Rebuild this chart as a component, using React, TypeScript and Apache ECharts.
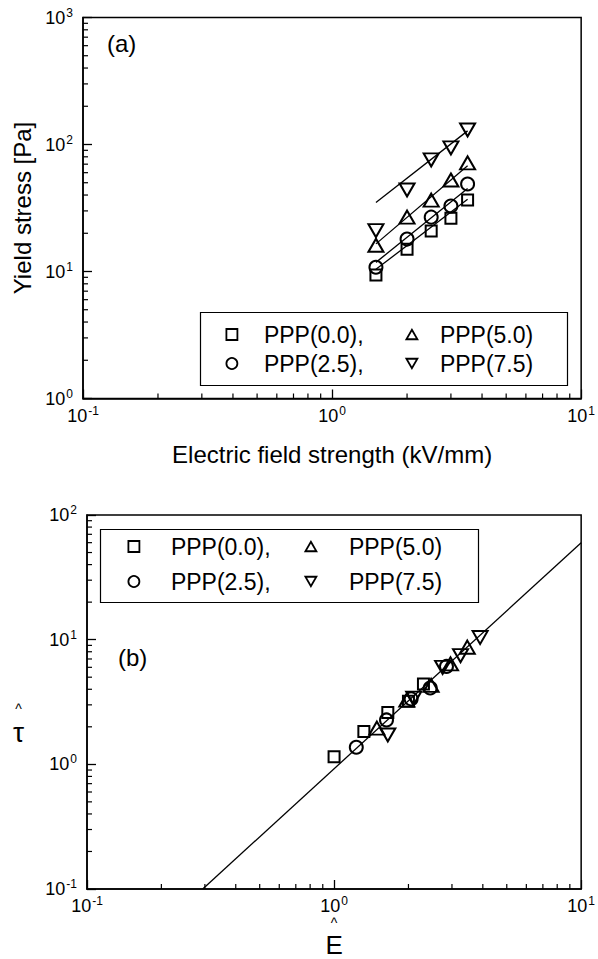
import React, { useEffect, useRef } from "react";
import * as echarts from "echarts";

const FONT = "'Liberation Sans', Arial, Helvetica, sans-serif";

// ---------- Panel (a): yield stress vs electric field ----------
const fieldStrength = [1.5, 2.0, 2.5, 3.0, 3.5];
const stressPPP00 = [9.4, 15, 20.8, 26.3, 36.5];
const stressPPP25 = [10.8, 18, 26.8, 32.8, 48.9];
const stressPPP50 = [16.1, 26.8, 36.5, 52.5, 71.6];
const stressPPP75 = [21, 43.8, 75.6, 94, 130];
const fitFieldEnds = [1.5, 3.5];
const fitPPP00 = [10.4, 37];
const fitPPP25 = [11.8, 45];
const fitPPP50 = [16.5, 68];
const fitPPP75 = [35, 128];

// ---------- Panel (b): normalized master curve ----------
const eHat00 = [1.0, 1.32, 1.65, 2.0, 2.3];
const tauHat00 = [1.15, 1.83, 2.6, 3.2, 4.4];
const eHat25 = [1.23, 1.63, 2.05, 2.45, 2.85];
const tauHat25 = [1.37, 2.27, 3.35, 4.1, 6.1];
const eHat50 = [1.49, 1.97, 2.47, 2.96, 3.46];
const tauHat50 = [1.95, 3.27, 4.3, 6.4, 8.7];
const eHat75 = [1.65, 2.1, 2.75, 3.25, 3.9];
const tauHat75 = [1.72, 3.4, 6.0, 7.45, 10.4];
const masterFitE = [0.294, 10];
const masterFitTau = [0.1, 60];

const seriesNames = ["PPP(0.0)", "PPP(2.5)", "PPP(5.0)", "PPP(7.5)"];
const axisRangeA = { xMin: 0.1, xMax: 10, yMin: 1, yMax: 1000 };
const axisRangeB = { xMin: 0.1, xMax: 10, yMin: 0.1, yMax: 100 };

const DOWN_TRI = "path://M0,0L20,0L10,17.3Z";
const UP_TRI = "path://M10,0L20,17.3L0,17.3Z";
const SQUARE = "path://M0,0L10,0L10,10L0,10Z";
const SYMBOLS = ["rect", "circle", "triangle", DOWN_TRI];
const LEGEND_ICONS = [SQUARE, "circle", UP_TRI, DOWN_TRI];
const SIZES: any[] = [[11, 11], 13, [15, 13], [15, 13]];

function minorTicks(min: number, max: number): number[] {
  const out: number[] = [];
  for (let d = min; d < max * 0.999; d *= 10) {
    for (let k = 2; k <= 9; k++) out.push(+(d * k).toPrecision(6));
  }
  return out;
}

const supLabel = (v: number) => {
  const e = Math.round(Math.log10(v));
  return `{b|10}{s|${e}}`;
};

const labelRich = {
  b: { fontSize: 18, fontFamily: FONT, color: "#000", lineHeight: 22 },
  s: { fontSize: 12, fontFamily: FONT, color: "#000", lineHeight: 12, verticalAlign: "top" as const, padding: [0, 0, 0, 1] },
};

function logAxis(gridIndex: number, min: number, max: number, isX: boolean, extra: any = {}) {
  return {
    type: "log",
    logBase: 10,
    gridIndex,
    min,
    max,
    axisLine: { show: true, onZero: false, lineStyle: { color: "#000", width: 1.5 } },
    axisTick: { show: true, inside: true, length: 9, lineStyle: { color: "#000", width: 1.3 } },
    minorTick: { show: false },
    splitLine: { show: false },
    axisLabel: {
      show: true,
      formatter: supLabel,
      rich: labelRich,
      margin: isX ? 6 : 10,
      showMinLabel: true,
      showMaxLabel: true,
      hideOverlap: false,
    },
    ...extra,
  };
}

function minorTickSeries(xIdx: number, yIdx: number, data: number[][], dir: "x" | "y") {
  return {
    type: "custom",
    xAxisIndex: xIdx,
    yAxisIndex: yIdx,
    silent: true,
    clip: false,
    z: 5,
    data,
    renderItem: (_params: any, api: any) => {
      const p = api.coord([api.value(0), api.value(1)]);
      const len = 5;
      const shape =
        dir === "x"
          ? { x1: p[0], y1: p[1], x2: p[0], y2: p[1] - len }
          : { x1: p[0], y1: p[1], x2: p[0] + len, y2: p[1] };
      return { type: "line", shape, style: { stroke: "#000", lineWidth: 1.2 } };
    },
  };
}

function scatterSeries(i: number, xIdx: number, xs: number[], ys: number[]) {
  return {
    name: seriesNames[i],
    type: "scatter",
    xAxisIndex: xIdx,
    yAxisIndex: xIdx,
    symbol: SYMBOLS[i],
    symbolSize: SIZES[i],
    data: xs.map((x, k) => [x, ys[k]]),
    itemStyle: { color: "rgba(255,255,255,0)", borderColor: "#000", borderWidth: 2, opacity: 1 },
    emphasis: { disabled: true },
    silent: true,
    z: 3,
  };
}

function fitLine(xIdx: number, xs: number[], ys: number[]) {
  return {
    type: "line",
    xAxisIndex: xIdx,
    yAxisIndex: xIdx,
    data: xs.map((x, k) => [x, ys[k]]),
    symbol: "none",
    lineStyle: { color: "#000", width: 1.3 },
    silent: true,
    z: 2,
  };
}

// markerX: centre of legend icon; textX: left edge of legend text
function legendColumn(idx: number[], markerX: number, textX: number, top: number, gap: number, comma: boolean) {
  const size = 11;
  const left = markerX - size / 2;
  const pad = textX - (left + size + 5);
  return {
    show: true,
    orient: "vertical",
    left,
    top,
    padding: 0,
    itemWidth: size,
    itemHeight: size,
    itemGap: gap,
    symbolKeepAspect: true,
    selectedMode: false,
    z: 20,
    data: idx.map((i) => ({ name: seriesNames[i], icon: LEGEND_ICONS[i] })),
    formatter: (n: string) => (comma ? n + "," : n),
    textStyle: { fontSize: 23, fontFamily: FONT, color: "#000", padding: [0, 0, 0, pad] },
    itemStyle: { color: "rgba(255,255,255,0)", borderColor: "#000", borderWidth: 1.8 },
  };
}

export default function App() {
  const ref = useRef<HTMLDivElement>(null);

  useEffect(() => {
    document.body.style.margin = "0";
    if (!ref.current) return;
    const chart = echarts.init(ref.current, null, { renderer: "svg" });

    const xMinorA = minorTicks(axisRangeA.xMin, axisRangeA.xMax).map((v) => [v, axisRangeA.yMin]);
    const yMinorA = minorTicks(axisRangeA.yMin, axisRangeA.yMax).map((v) => [axisRangeA.xMin, v]);
    const xMinorB = minorTicks(axisRangeB.xMin, axisRangeB.xMax).map((v) => [v, axisRangeB.yMin]);
    const yMinorB = minorTicks(axisRangeB.yMin, axisRangeB.yMax).map((v) => [axisRangeB.xMin, v]);

    const option: any = {
      animation: false,
      backgroundColor: "#fff",
      textStyle: { fontFamily: FONT, color: "#000" },
      grid: [
        { left: 83, top: 17.5, width: 504, height: 381, show: true, borderColor: "#000", borderWidth: 1.5, backgroundColor: "transparent" },
        { left: 87, top: 515, width: 500, height: 377, show: true, borderColor: "#000", borderWidth: 1.5, backgroundColor: "transparent" },
      ],
      xAxis: [
        logAxis(0, axisRangeA.xMin, axisRangeA.xMax, true, {
          name: "Electric field strength (kV/mm)",
          nameLocation: "middle",
          nameGap: 44,
          nameTextStyle: { fontSize: 24, fontFamily: FONT, color: "#000" },
        }),
        logAxis(1, axisRangeB.xMin, axisRangeB.xMax, true, {
          name: "{h|^}\n{e|E}",
          nameLocation: "middle",
          nameGap: 24,
          nameTextStyle: {
            fontFamily: FONT,
            color: "#000",
            rich: {
              h: { fontSize: 14, lineHeight: 20, fontFamily: FONT, color: "#000" },
              e: { fontSize: 26, lineHeight: 24, fontFamily: FONT, color: "#000" },
            },
          },
        }),
      ],
      yAxis: [
        logAxis(0, axisRangeA.yMin, axisRangeA.yMax, false, {
          name: "Yield stress [Pa]",
          nameLocation: "middle",
          nameGap: 46,
          nameTextStyle: { fontSize: 24, fontFamily: FONT, color: "#000" },
        }),
        logAxis(1, axisRangeB.yMin, axisRangeB.yMax, false),
      ],
      legend: [
        legendColumn([0, 1], 231, 263, 323, 6, true),
        legendColumn([2, 3], 411, 439, 323, 6, false),
        legendColumn([0, 1], 133, 170, 535, 12, true),
        legendColumn([2, 3], 310, 348, 535, 12, false),
      ],
      graphic: [
        { type: "rect", left: 198, top: 310, z: 1, shape: { x: 0, y: 0, width: 367, height: 73 }, style: { fill: "none", stroke: "#000", lineWidth: 1.2 }, silent: true },
        { type: "rect", left: 98, top: 527, z: 1, shape: { x: 0, y: 0, width: 378, height: 73 }, style: { fill: "none", stroke: "#000", lineWidth: 1.2 }, silent: true },
        { type: "text", left: 107, top: 31, style: { text: "(a)", fontSize: 24, fontFamily: FONT, fill: "#000" }, silent: true },
        { type: "text", left: 118, top: 645, style: { text: "(b)", fontSize: 24, fontFamily: FONT, fill: "#000" }, silent: true },
        {
          type: "text",
          left: 13,
          top: 702,
          style: {
            text: "{h|^}\n{t|τ}",
            fontFamily: FONT,
            fill: "#000",
            align: "center",
            rich: {
              h: { fontSize: 14, lineHeight: 20, fontFamily: FONT, fill: "#000", align: "center" },
              t: { fontSize: 28, lineHeight: 26, fontFamily: FONT, fill: "#000", align: "center" },
            },
          },
          silent: true,
        },
      ],
      series: [
        fitLine(0, fitFieldEnds, fitPPP00),
        fitLine(0, fitFieldEnds, fitPPP25),
        fitLine(0, fitFieldEnds, fitPPP50),
        fitLine(0, fitFieldEnds, fitPPP75),
        scatterSeries(0, 0, fieldStrength, stressPPP00),
        scatterSeries(1, 0, fieldStrength, stressPPP25),
        scatterSeries(2, 0, fieldStrength, stressPPP50),
        scatterSeries(3, 0, fieldStrength, stressPPP75),
        fitLine(1, masterFitE, masterFitTau),
        scatterSeries(0, 1, eHat00, tauHat00),
        scatterSeries(1, 1, eHat25, tauHat25),
        scatterSeries(2, 1, eHat50, tauHat50),
        scatterSeries(3, 1, eHat75, tauHat75),
        minorTickSeries(0, 0, xMinorA, "x"),
        minorTickSeries(0, 0, yMinorA, "y"),
        minorTickSeries(1, 1, xMinorB, "x"),
        minorTickSeries(1, 1, yMinorB, "y"),
      ],
    };

    chart.setOption(option);
    return () => chart.dispose();
  }, []);

  return <div ref={ref} style={{ width: 598, height: 959 }} />;
}
